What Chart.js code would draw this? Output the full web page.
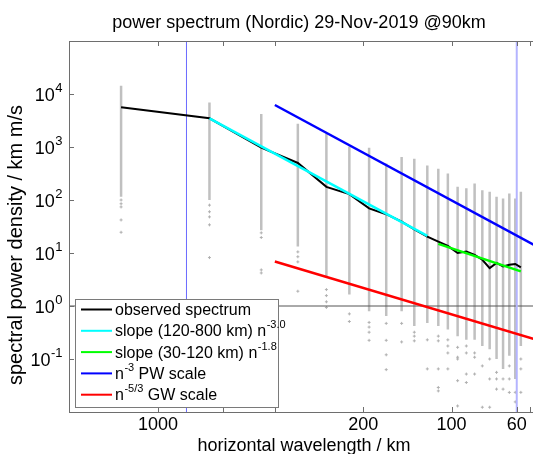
<!DOCTYPE html>
<html>
<head>
<meta charset="utf-8">
<script src="https://cdn.jsdelivr.net/npm/chart.js@4.4.0/dist/chart.umd.min.js"></script>
<style>
    html, body { margin: 0; padding: 0; background: #fff; overflow: hidden; }
    #wrap { width: 545px; height: 454px; }
</style>
</head>
<body>
<div id="wrap"><canvas id="spectrum-chart" width="545" height="454"></canvas></div>
<script>
// wavelength (km) of each sample column, n = 1..23
const columnWavelengths = [1336, 668, 445, 334, 267, 223, 191, 167, 148, 134, 121, 111, 103, 95.4, 89.1, 83.5, 78.6, 74.2, 70.3, 66.8, 63.6, 60.7, 58.1];
// dense part of each gray column (top and bottom of the band)
const columnTop = [14300, 6900, 4200, 2740, 1780, 1020, 970, 486, 650, 600, 450, 390, 316, 178, 166, 205, 153, 143, 115, 107, 133, 107, 143];
const columnDenseBottom = [115, 100, 27, 13.2, 3.6, 1.64, 0.8, 0.65, 0.8, 0.42, 0.48, 0.42, 0.36, 0.27, 0.23, 0.23, 0.176, 0.153, 0.1, 0.065, 0.115, 0.042, 0.176];
// isolated samples below the band
const columnOutliers = [
    [100, 85, 74, 42, 24.6],
    [80, 60, 48, 34, 8.2],
    [24, 19.6, 4.8, 4.2],
    [10.5, 8.5, 6.8, 1.9],
    [2.04, 1.57, 1.2, 0.94],
    [0.71, 0.51],
    [0.49, 0.40, 0.32, 0.225],
    [0.47, 0.225, 0.12, 0.063],
    [0.47, 0.21],
    [0.32, 0.27, 0.22],
    [0.23, 0.065],
    [0.27, 0.22, 0.065, 0.029, 0.025],
    [0.23, 0.176, 0.13, 0.065],
    [0.166, 0.108, 0.1, 0.039, 0.013],
    [0.176, 0.13, 0.052, 0.036],
    [0.13, 0.108, 0.052],
    [0.074, 0.0123],
    [0.1, 0.042, 0.0123],
    [0.056, 0.042, 0.027],
    [0.042, 0.027],
    [0.074, 0.042, 0.0234],
    [0.0235, 0.0155],
    [0.1, 0.065, 0.0235]
];
// observed (mean) spectrum
const observedSpectrum = [5600, 3480, 970, 500, 177, 129, 69.5, 54, 39, 28, 20.4, 16.4, 13.6, 10.0, 10.7, 9.2, 7.45, 5.2, 6.5, 5.6, 6.0, 6.2, 5.35];
// fitted slopes and reference scales (end points)
const slopeLargeX = [668, 121];
const slopeLargeY = [3480, 21];
const slopeSmallX = [111, 58.1];
const slopeSmallY = [14.9, 4.5];
const pwScaleX = [400, 50];
const pwScaleY = [6200, 12.3];
const gwScaleX = [400, 50];
const gwScaleY = [6.9, 0.22];
const boundaryWavelengths = [800, 60];
const unitLevel = 1;
// ticks
const xTickValues = [1000, 600, 400, 200, 100, 60, 54];
const xTickLabels = ['1000', '', '', '200', '100', '60', ''];
const yTickExponents = [4, 3, 2, 1, 0, -1];
const legendItems = [
    { color: '#000000', text: 'observed spectrum', sup: '', tail: '' },
    { color: '#00ffff', text: 'slope (120-800 km) n', sup: '-3.0', tail: '' },
    { color: '#00ff00', text: 'slope (30-120 km) n', sup: '-1.8', tail: '' },
    { color: '#0000ff', text: 'n', sup: '-3', tail: ' PW scale' },
    { color: '#ff0000', text: 'n', sup: '-5/3', tail: ' GW scale' }
];

const FONT = '"Liberation Sans", Arial, Helvetica, sans-serif';

function pairs(xs, ys) {
    return xs.map(function(x, i) { return { x: x, y: ys[i] }; });
}

// gray bands: top -> bottom, then a gap
const bandData = [];
columnWavelengths.forEach(function(w, i) {
    bandData.push({ x: w, y: columnTop[i] }, { x: w, y: columnDenseBottom[i] }, { x: w, y: null });
});
const outlierData = [];
columnWavelengths.forEach(function(w, i) {
    columnOutliers[i].forEach(function(v) { outlierData.push({ x: w, y: v }); });
});

// draw "base" + superscript, returns end x
function drawSup(ctx, x, y, base, sup, tail, size, align) {
    const supSize = Math.round(size * 0.7);
    ctx.font = size + 'px ' + FONT;
    const wb = ctx.measureText(base).width;
    const wt = tail ? ctx.measureText(tail).width : 0;
    ctx.font = supSize + 'px ' + FONT;
    const ws = sup ? ctx.measureText(sup).width : 0;
    let x0 = x;
    if (align === 'right') x0 = x - (wb + ws + wt);
    ctx.textAlign = 'left';
    ctx.textBaseline = 'middle';
    ctx.font = size + 'px ' + FONT;
    ctx.fillText(base, x0, y);
    if (sup) {
        ctx.font = supSize + 'px ' + FONT;
        ctx.fillText(sup, x0 + wb + 0.5, y - size * 0.4);
    }
    if (tail) {
        ctx.font = size + 'px ' + FONT;
        ctx.fillText(tail, x0 + wb + ws + 0.5, y);
    }
    return x0 + wb + ws + wt;
}

const frameAndText = {
    id: 'frameAndText',
    afterDraw: function(chart) {
        const ctx = chart.ctx;
        const a = chart.chartArea;
        const xs = chart.scales.x;
        const ys = chart.scales.y;
        ctx.save();

        // axes box
        ctx.strokeStyle = '#6e6e6e';
        ctx.lineWidth = 1;
        ctx.strokeRect(Math.round(a.left) + 0.5, Math.round(a.top) + 0.5, Math.round(a.right - a.left), Math.round(a.bottom - a.top));

        // inward ticks
        ctx.beginPath();
        xTickValues.forEach(function(v) {
            const px = Math.round(xs.getPixelForValue(v)) + 0.5;
            ctx.moveTo(px, a.bottom); ctx.lineTo(px, a.bottom - 5);
            ctx.moveTo(px, a.top); ctx.lineTo(px, a.top + 5);
        });
        yTickExponents.forEach(function(e) {
            const py = Math.round(ys.getPixelForValue(Math.pow(10, e))) + 0.5;
            ctx.moveTo(a.left, py); ctx.lineTo(a.left + 5, py);
            ctx.moveTo(a.right, py); ctx.lineTo(a.right - 5, py);
        });
        ctx.stroke();

        // tick labels
        ctx.fillStyle = '#000';
        ctx.font = '18px ' + FONT;
        ctx.textAlign = 'center';
        ctx.textBaseline = 'middle';
        xTickValues.forEach(function(v, i) {
            if (xTickLabels[i]) ctx.fillText(xTickLabels[i], xs.getPixelForValue(v), a.bottom + 13);
        });
        yTickExponents.forEach(function(e) {
            drawSup(ctx, a.left - 7, ys.getPixelForValue(Math.pow(10, e)) + 2, '10', String(e), '', 18, 'right');
        });

        // titles
        ctx.font = '18px ' + FONT;
        ctx.textAlign = 'center';
        ctx.textBaseline = 'alphabetic';
        ctx.fillText('power spectrum (Nordic) 29-Nov-2019 @90km', 299, 28);
        ctx.fillText('horizontal wavelength / km', 304, 451);
        ctx.save();
        ctx.translate(22, 245);
        ctx.rotate(-Math.PI / 2);
        ctx.font = '20px ' + FONT;
        ctx.textBaseline = 'alphabetic';
        ctx.fillText('spectral power density / km m/s', 0, 0);
        ctx.restore();

        // legend
        const lx = 75, ly = 299, lw = 203, lh = 108;
        ctx.fillStyle = '#fff';
        ctx.fillRect(lx, ly, lw, lh);
        ctx.strokeStyle = '#7a7a7a';
        ctx.lineWidth = 1;
        ctx.strokeRect(lx + 0.5, ly + 0.5, lw, lh);
        legendItems.forEach(function(item, i) {
            const ry = 309.5 + i * 21.3;
            ctx.strokeStyle = item.color;
            ctx.lineWidth = 2;
            ctx.beginPath();
            ctx.moveTo(81, ry); ctx.lineTo(112, ry);
            ctx.stroke();
            ctx.fillStyle = '#000';
            drawSup(ctx, 115, ry + 1, item.text, item.sup, item.tail, 16, 'left');
        });

        ctx.restore();
    }
};

document.addEventListener('DOMContentLoaded', function() {
    const ctx = document.getElementById('spectrum-chart').getContext('2d');
    new Chart(ctx, {
        type: 'scatter',
        data: {
            datasets: [
                {   // reference line at 10^0
                    data: pairs([2010, 50], [unitLevel, unitLevel]),
                    showLine: true, borderColor: '#555', borderWidth: 1, pointRadius: 0, order: 9
                },
                {
                    data: [{ x: boundaryWavelengths[0], y: 0.01 }, { x: boundaryWavelengths[0], y: 1e5 }],
                    showLine: true, borderColor: '#6a6aff', borderWidth: 1, pointRadius: 0, order: 8
                },
                {
                    data: [{ x: boundaryWavelengths[1], y: 0.01 }, { x: boundaryWavelengths[1], y: 1e5 }],
                    showLine: true, borderColor: '#b4b4ff', borderWidth: 2, pointRadius: 0, order: 7
                },
                {
                    label: 'samples',
                    data: bandData,
                    showLine: true, spanGaps: false, borderColor: '#c0c0c0', borderWidth: 2.5,
                    pointRadius: 0, order: 12
                },
                {
                    label: 'samples',
                    data: outlierData,
                    pointStyle: 'cross', pointRadius: 1.5, borderColor: '#b0b0b0', borderWidth: 1, order: 11
                },
                {
                    label: 'observed spectrum',
                    data: pairs(columnWavelengths, observedSpectrum),
                    showLine: true, borderColor: '#000', borderWidth: 2, pointRadius: 0, order: 5
                },
                {
                    label: 'slope (120-800 km)',
                    data: pairs(slopeLargeX, slopeLargeY),
                    showLine: true, borderColor: '#00ffff', borderWidth: 2.5, pointRadius: 0, order: 4
                },
                {
                    label: 'slope (30-120 km)',
                    data: pairs(slopeSmallX, slopeSmallY),
                    showLine: true, borderColor: '#00ff00', borderWidth: 2.5, pointRadius: 0, order: 3
                },
                {
                    label: 'PW scale',
                    data: pairs(pwScaleX, pwScaleY),
                    showLine: true, borderColor: '#0000ff', borderWidth: 2.5, pointRadius: 0, order: 2
                },
                {
                    label: 'GW scale',
                    data: pairs(gwScaleX, gwScaleY),
                    showLine: true, borderColor: '#ff0000', borderWidth: 2.5, pointRadius: 0, order: 1
                }
            ]
        },
        options: {
            responsive: false,
            animation: false,
            layout: { padding: { top: 41, right: 5, left: 0, bottom: 0 } },
            plugins: {
                legend: { display: false },
                tooltip: { enabled: false },
                title: { display: false }
            },
            scales: {
                x: {
                    type: 'logarithmic',
                    reverse: true,
                    min: 50,
                    max: 2010,
                    ticks: { display: false },
                    grid: { display: false },
                    border: { display: false },
                    afterFit: function(s) { s.height = 42; }
                },
                y: {
                    type: 'logarithmic',
                    min: 0.01,
                    max: 1e5,
                    ticks: { display: false },
                    grid: { display: false },
                    border: { display: false },
                    afterFit: function(s) { s.width = 69; }
                }
            }
        },
        plugins: [frameAndText]
    });
});
</script>
</body>
</html>
